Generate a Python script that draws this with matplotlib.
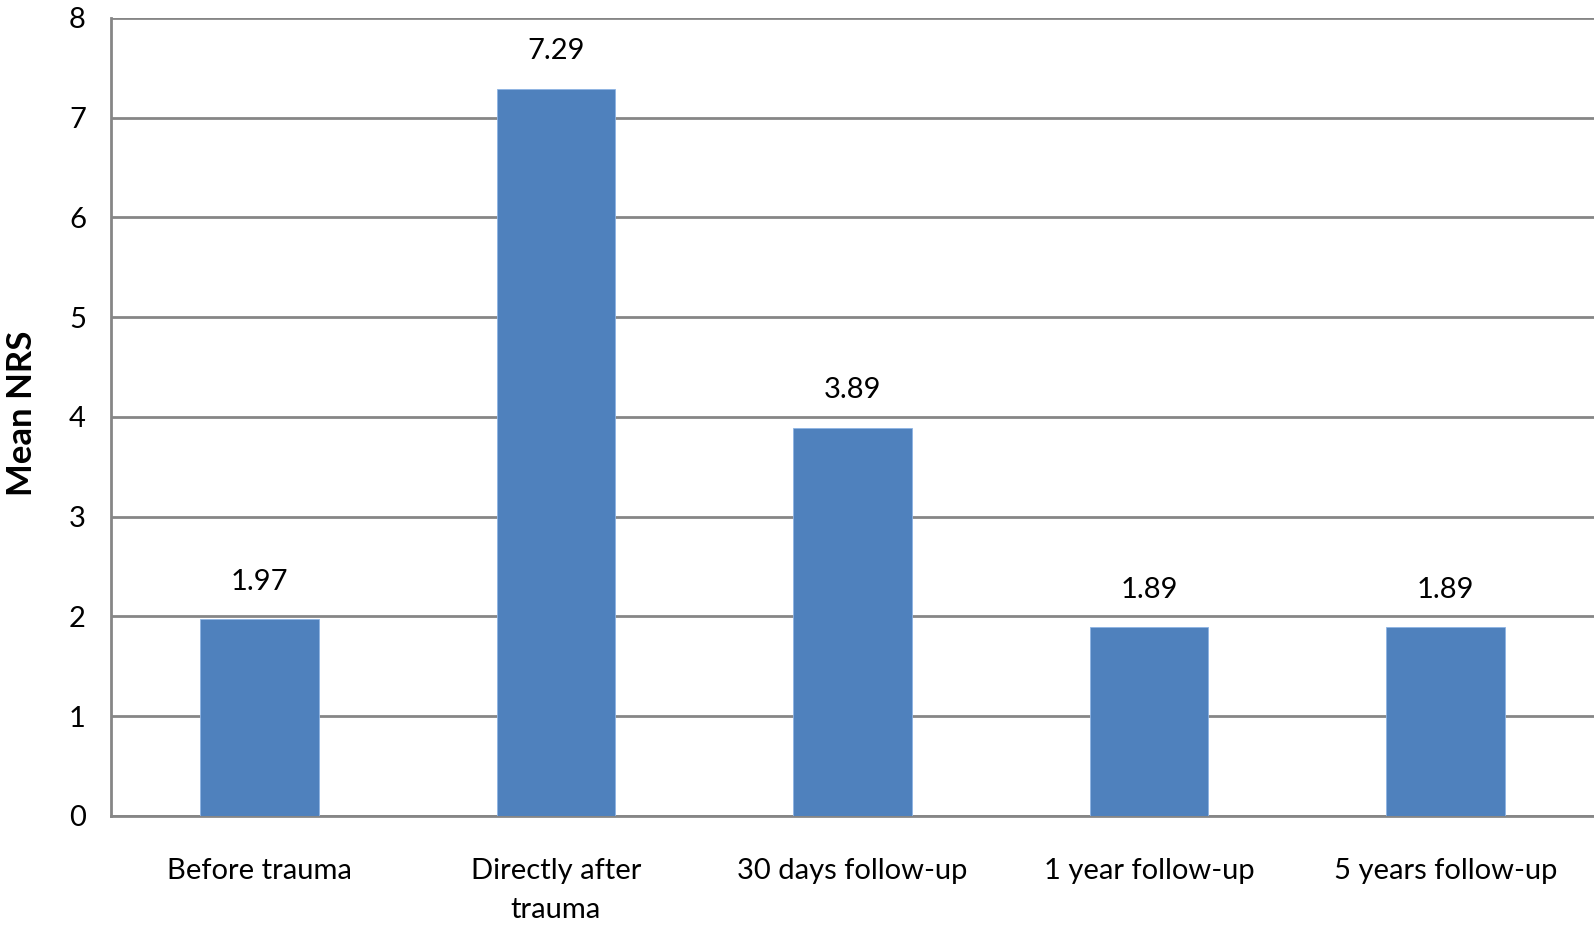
import matplotlib
matplotlib.use('Agg')
import matplotlib.pyplot as plt
import numpy as np

# data
categories = ['Before trauma', 'Directly after\ntrauma', '30 days follow-up',
              '1 year follow-up', '5 years follow-up']
mean_nrs = [1.97, 7.29, 3.89, 1.89, 1.89]
value_labels = ['1.97', '7.29', '3.89', '1.89', '1.89']
y_ticks = [0, 1, 2, 3, 4, 5, 6, 7, 8]

plt.rcParams['font.family'] = ['Lato', 'DejaVu Sans']

fig = plt.figure(figsize=(15.94, 9.32), dpi=100)
ax = fig.add_axes([0.0696, 0.1245, 0.9304, 0.8562])

x = np.arange(len(categories))
ax.bar(x, mean_nrs, width=0.4, color='#4F81BD', edgecolor='#8EB4E3', linewidth=0.6, zorder=3)

for xi, v, lab in zip(x, mean_nrs, value_labels):
    ax.text(xi, v + 0.38, lab, ha='center', va='center', fontsize=21, color='black')

ax.set_xlim(-0.5, len(categories) - 0.5)
ax.set_ylim(0, 8)
ax.set_yticks(y_ticks)
ax.set_yticklabels([str(t) for t in y_ticks], fontsize=21)
ax.set_xticks(x)
ax.set_xticklabels(categories, fontsize=21, linespacing=1.62, va='top')
ax.tick_params(axis='y', length=0, pad=18)
ax.tick_params(axis='x', length=0, pad=30)

ax.yaxis.grid(True, color='#868686', linewidth=2, zorder=0)
ax.set_axisbelow(True)
for s in ['top', 'right']:
    ax.spines[s].set_visible(False)
ax.spines['left'].set_color('#868686')
ax.spines['left'].set_linewidth(2)
ax.spines['bottom'].set_color('#868686')
ax.spines['bottom'].set_linewidth(2)

fig.text(0.0135, 0.5562, 'Mean NRS', rotation=90, ha='center', va='center',
         fontsize=25, fontweight='bold')

fig.savefig('out.png', dpi=100)
